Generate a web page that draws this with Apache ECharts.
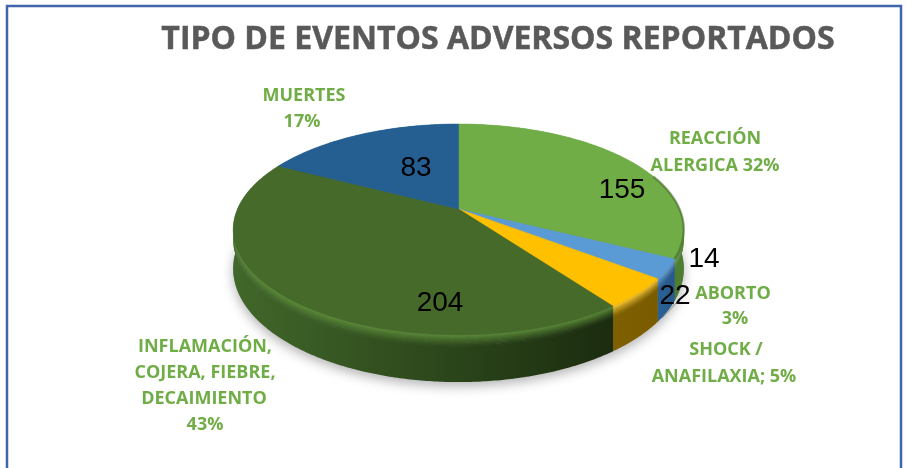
<!DOCTYPE html>
<html><head><meta charset="utf-8">
<style>html,body{margin:0;padding:0;background:#fff}#c{width:907px;height:468px}</style>
<script src="https://cdn.jsdelivr.net/npm/echarts@6/dist/echarts.min.js"></script>
</head><body><div id="c"></div>
<script>
const titleText = 'TIPO DE EVENTOS ADVERSOS REPORTADOS';
const categories = ['REACCIÓN ALERGICA', 'ABORTO', 'SHOCK / ANAFILAXIA', 'INFLAMACIÓN, COJERA, FIEBRE, DECAIMIENTO', 'MUERTES'];
const values = [155, 14, 22, 204, 83];
const labelLines = ['MUERTES', '17%', 'REACCIÓN', 'ALERGICA 32%', 'ABORTO', '3%', 'SHOCK /', 'ANAFILAXIA; 5%', 'INFLAMACIÓN,', 'COJERA, FIEBRE,', 'DECAIMIENTO', '43%'];

/* layout and style, kept apart from the data */
const labelXY = [[304,96],[302,122],[715,139],[715,166],[733,294],[735,319],[726,350],[724,377],[205,347],[205,373],[204,399],[205,425]];
const valueXY = [[622,190],[704,259],[675,296],[440,303],[416,168]];
const topColors = ['#70ad47','#5b9bd5','#ffc000','#466a2a','#255e91'];
const rimColors = ['#7cb652','#6ba6dc','#ffcc33','#5c8e38','#3a74a8'];
const sideStops = [['#4d7d2e','#4d7d2e'],['#2a6296','#27598a'],['#7f6000','#7a5c00'],['#41672a','#1b2c0f'],['#1b4a73','#1b4a73']];

const cx = 458.5, cy = 209, R = 221, B = 101.5, D = 38, P = 0.194;
const total = values.reduce((a, b) => a + b, 0);
function proj(t, d) {
  const X = Math.sin(t), Y = Math.cos(t), w = 1 + P * Y;
  return [cx + R * X / w, cy - B * Y / w + D * d / w];
}
function sliceAngles(i) {
  let s = 0;
  for (let k = 0; k < i; k++) s += values[k];
  return [s / total * 2 * Math.PI, (s + values[i]) / total * 2 * Math.PI];
}
function arc(a0, a1, d) {
  const n = Math.max(2, Math.ceil((a1 - a0) / 0.01)), pts = [];
  for (let k = 0; k <= n; k++) pts.push(proj(a0 + (a1 - a0) * k / n, d));
  return pts;
}
function mix(a, b, f) {
  const h = c => [1,3,5].map(i => parseInt(c.substr(i,2),16));
  const A = h(a), B2 = h(b);
  return 'rgb(' + A.map((v,i) => Math.round(v + (B2[i]-v)*f)).join(',') + ')';
}
function band(a0, a1, d0, d1) {
  return arc(a0, a1, d0).concat(arc(a0, a1, d1).reverse());
}

const baseSeries = {
  type: 'custom', coordinateSystem: 'none', silent: true, z: 1, data: [total],
  renderItem() {
    return { type: 'polygon', shape: { points: arc(0, 2*Math.PI, 0.98) },
      style: { fill: '#777', shadowColor: 'rgba(0,0,0,0.3)', shadowBlur: 12, shadowOffsetY: 5 } };
  }
};
const sideSeries = {
  type: 'custom', coordinateSystem: 'none', silent: true, z: 2, data: values,
  renderItem(params) {
    const i = params.dataIndex, [a0, a1] = sliceAngles(i), kids = [], N = 9, bev = 0.24;
    const stops = sideStops[i];
    const grad = f => new echarts.graphic.LinearGradient(0,0,1,0,[
      {offset:0,color:mix(rimColors[i],stops[0],f)},{offset:1,color:mix(rimColors[i],stops[1],f)}]);
    kids.push({ type:'polygon', shape:{points:band(a0,a1,bev,1)}, style:{fill:grad(1)} });
    for (let k = 0; k < N; k++) {
      const d0 = bev*k/N, d1 = bev*(k+1)/N + 0.01;
      kids.push({ type:'polygon', shape:{points:band(a0,a1,d0,d1)}, style:{fill:grad(Math.pow((k+0.5)/N,0.8))} });
    }
    return { type:'group', children:kids };
  }
};
const topSeries = {
  type: 'custom', coordinateSystem: 'none', silent: true, z: 3, data: values,
  renderItem(params) {
    const i = params.dataIndex, [a0, a1] = sliceAngles(i);
    return { type:'polygon', shape:{ points:[[cx,cy]].concat(arc(a0,a1,0)) },
      style:{ fill:topColors[i], stroke:topColors[i], lineWidth:0.5 } };
  }
};
const edgeSeries = {
  type: 'custom', coordinateSystem: 'none', silent: true, z: 4, data: [values[0]],
  renderItem() {
    const [a0, a1] = sliceAngles(0);
    return { type:'polyline', shape:{ points:arc(a0 + (a1-a0)*0.6, a1, 0) },
      style:{ fill:'none', stroke:'rgba(45,75,25,0.4)', lineWidth:2.5 } };
  }
};
const textSeries = {
  type: 'custom', coordinateSystem: 'none', silent: true, z: 5, data: values,
  renderItem(params, api) {
    const i = params.dataIndex;
    return { type:'text', style:{ text:String(api.value(0)), x:valueXY[i][0], y:valueXY[i][1],
      align:'center', verticalAlign:'middle', fill:'#000', font:'28px "Liberation Sans"' } };
  }
};
const graphics = [
  { type:'rect', shape:{x:7,y:6,width:894,height:470}, style:{fill:'none',stroke:'#3f66ab',lineWidth:2.5}, z:0 },
  { type:'text', style:{ text:titleText, x:498, y:40, align:'center', verticalAlign:'middle', fill:'#595959', stroke:'#595959', lineWidth:0.5, font:'bold 32px "Open Sans"' }, z:10 },
  { type:'line', shape:{x1:662,y1:318,x2:678,y2:301}, style:{stroke:'#8c8c8c',lineWidth:1}, z:4 }
].concat(labelLines.map((t,i) => ({ type:'text', z:10,
  style:{ text:t, x:labelXY[i][0], y:labelXY[i][1], align:'center', verticalAlign:'middle', fill:'#70ad47', font:'bold 18px "Open Sans"' } })));

const chart = echarts.init(document.getElementById('c'), null, {renderer:'canvas'});
chart.setOption({
  animation:false, backgroundColor:'#fff',
  graphic:graphics,
  series:[baseSeries, sideSeries, topSeries, edgeSeries, textSeries]
});
</script></body></html>
